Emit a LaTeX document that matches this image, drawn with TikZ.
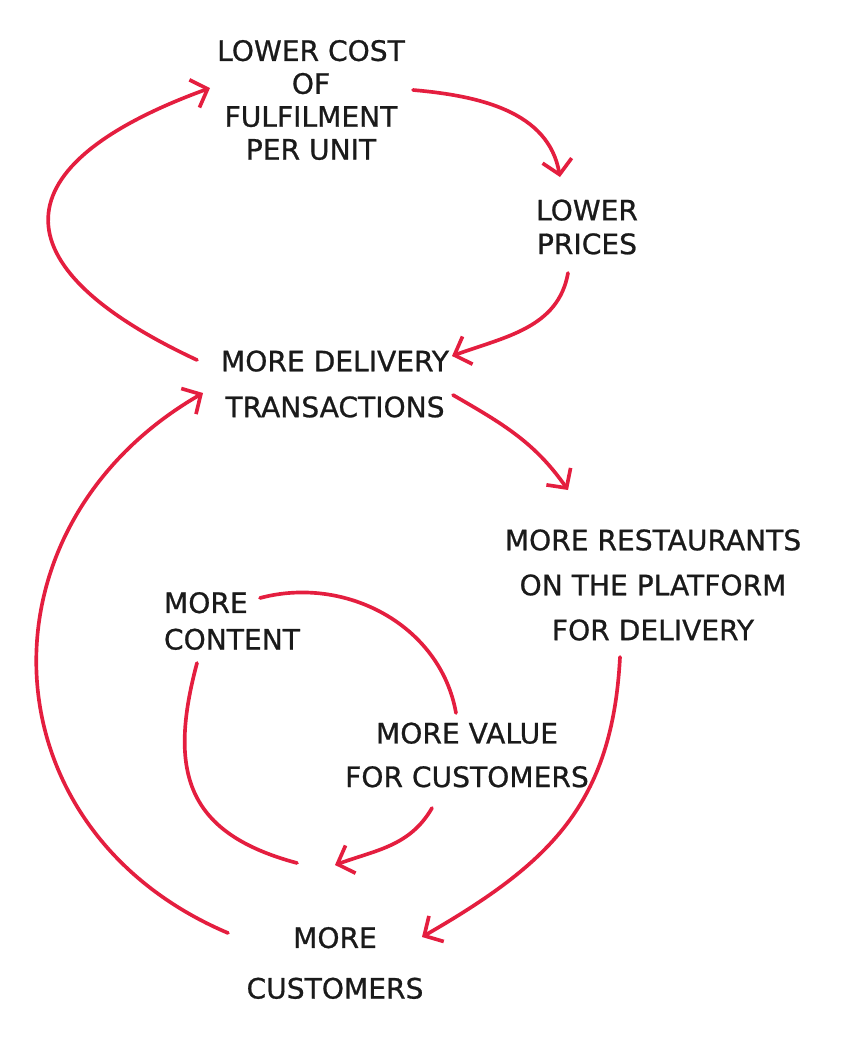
\documentclass[tikz,border=0pt]{standalone}
\usepackage{fontspec}
\setmainfont{DejaVu Sans}[FakeBold=0.8]
\usetikzlibrary{arrows.meta,calc}
\definecolor{LoopRed}{HTML}{E41E3F}
\definecolor{InkBlack}{HTML}{1A1A1A}
\tikzset{
  lbl/.style={align=center,inner sep=2pt,text=InkBlack,
              font=\fontsize{20}{#1}\selectfont},
  lbl/.default=32,
  lnk/.style={line width=2.6pt,line cap=round,draw=LoopRed},
  arr/.style={lnk,-{Straight Barb[length=10pt,width=21pt]}}
}

\begin{document}
\begin{tikzpicture}[x=0.025cm,y=0.025cm]
  \useasboundingbox (0,0) rectangle (846,-1042);
  \node[lbl=23.4] (cost) at (311,-100) {LOWER COST\\OF\\FULFILMENT\\PER UNIT};
  \node[lbl=24] (prices) at (587,-227) {LOWER\\PRICES};
  \node[lbl=32.6] (trans) at (335,-384) {MORE DELIVERY\\TRANSACTIONS};
  \node[lbl=32] (rest) at (653,-585) {MORE RESTAURANTS\\ON THE PLATFORM\\FOR DELIVERY};
  \node[lbl=26,align=left] (content) at (232,-621) {MORE\\CONTENT};
  \node[lbl=31] (value) at (467,-755) {MORE VALUE\\FOR CUSTOMERS};
  \node[lbl=36] (cust) at (335,-963) {MORE\\CUSTOMERS};
  \coordinate (loopin) at (335,-865);
  \coordinate (loopout) at (297,-863);

  % upper loop
  \draw[arr] ($(cost)+(102,10)$) to[out=-5,in=100] ($(prices)+(-27,50)$);
  \draw[arr] ($(prices)+(-19,-46)$) to[out=-100,in=20] ($(trans)+(117,28)$);
  \draw[arr] ($(trans)+(-138,24)$) to[out=155,in=200,looseness=2.1] ($(cost)+(-101,12)$);

  % lower loop
  \draw[arr] ($(trans)+(118,-11)$) to[out=-30,in=125] ($(rest)+(-85,95)$);
  \draw[arr] ($(rest)+(-33,-72)$) to[out=-93,in=30,looseness=1.1] ($(cust)+(87,26)$);
  \draw[arr] ($(cust)+(-107,30)$) to[out=157,in=210,looseness=1.26] ($(trans)+(-132,-9)$);

  % inner loop
  \draw[lnk] ($(content)+(28,23)$) to[out=15,in=100] ($(value)+(-11,42)$);
  \draw[arr] ($(value)+(-35,-53)$) to[out=-120,in=20] (loopin);
  \draw[lnk] ($(content)+(-35,-42)$) to[out=-105,in=165,looseness=1.3] (loopout);
\end{tikzpicture}
\end{document}
